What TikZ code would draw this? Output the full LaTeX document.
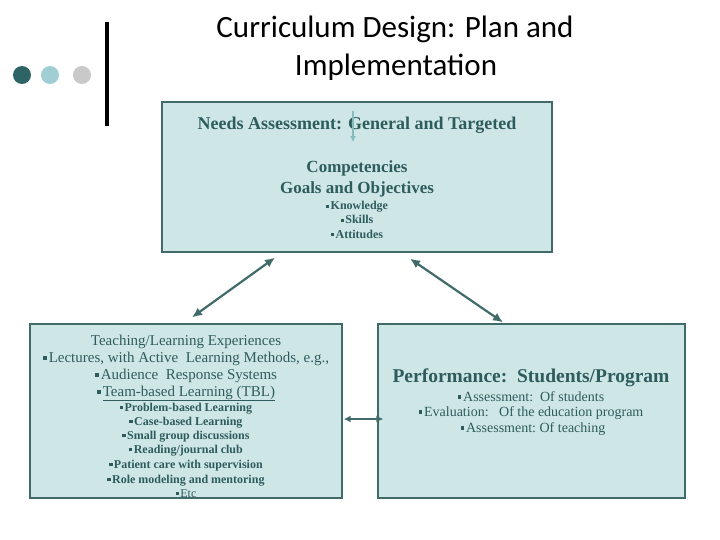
\documentclass[tikz,border=0pt]{standalone}
\usepackage{fontspec}
\setmainfont{Liberation Serif}
\newfontfamily\titlefont{Carlito}
\usetikzlibrary{arrows.meta, positioning}

\definecolor{ink}{HTML}{2E5C5C}
\definecolor{frame}{HTML}{416B6B}
\definecolor{boxfill}{HTML}{CFE6E6}
\definecolor{pale}{HTML}{86BBBD}
\definecolor{dotdark}{HTML}{2F6466}
\definecolor{dotlight}{HTML}{9FCFD4}
\definecolor{dotgrey}{HTML}{C9C9C9}

\newcommand{\fs}[1]{\fontsize{#1}{#1}\selectfont}
\newcommand{\sq}{\raisebox{0.3ex}{\rule{0.27em}{0.27em}}\hspace{0.12em}}

\begin{document}
\begin{tikzpicture}[x=1pt, y=-1pt,
    box/.style={draw=frame, fill=boxfill, line width=1.3pt, inner sep=0pt},
    txt/.style={anchor=base, text=ink, inner sep=0pt},
    link/.style={{Latex[length=10pt,width=9pt]}-{Latex[length=10pt,width=9pt]}, draw=frame, line width=2.2pt}]
  \useasboundingbox (0,0) rectangle (720,540);

  % corner dots and bar
  \fill[dotdark]  (22,75) circle (9pt);
  \fill[dotlight] (50,75) circle (9pt);
  \fill[dotgrey]  (82,75) circle (9pt);
  \draw[line width=4pt] (107,22) -- (107,126);

  \node[txt, text=black, font=\titlefont\fs{31}] (title1) at (395,38) {Curriculum Design: Plan and};
  \node[txt, text=black, font=\titlefont\fs{31}] (title2) at (396,76) {Implementation};

  % boxes
  \node[box, minimum width=390pt, minimum height=150pt] (needs) at (357,177) {};
  \node[box, minimum width=312pt, minimum height=174pt] (teach) at (186,411) {};
  \node[box, minimum width=307pt, minimum height=174pt] (perf) at (531.5,411) {};

  % top box
  \node[txt, font=\bfseries\fs{18}] (needstxt) at (357,130) {Needs Assessment: General and Targeted};
  \node[txt, font=\bfseries\fs{17}] (comp)  at (357,173) {Competencies};
  \node[txt, font=\bfseries\fs{17}] (goals) at (357,194) {Goals and Objectives};
  \node[txt, font=\bfseries\fs{12}] (know)   at (357,210) {\sq Knowledge};
  \node[txt, font=\bfseries\fs{12}] (skills) at (357,224) {\sq Skills};
  \node[txt, font=\bfseries\fs{12}] (att)    at (357,238) {\sq Attitudes};
  \draw[-{Latex[length=6pt,width=6pt]}, draw=pale, line width=1.6pt] ([xshift=-4pt,yshift=6pt]needstxt.north) -- ([xshift=-4pt,yshift=19pt]comp.north);

  % left box
  \node[txt, font=\fs{15}] (tl1) at (186,345) {Teaching/Learning Experiences};
  \node[txt, font=\fs{15}] (tl2) at (186,362) {\sq Lectures, with Active\ \ Learning Methods, e.g.,};
  \node[txt, font=\fs{15}] (tl3) at (186,379) {\sq Audience\ \ Response Systems};
  \node[txt, font=\fs{15}] (tl4) at (186,396) {\sq\underline{Team-based Learning (TBL)}};
  \node[txt, font=\bfseries\fs{12}] (tl5)  at (186,411) {\sq Problem-based Learning};
  \node[txt, font=\bfseries\fs{12}] (tl6)  at (186,425) {\sq Case-based Learning};
  \node[txt, font=\bfseries\fs{12}] (tl7)  at (186,439) {\sq Small group discussions};
  \node[txt, font=\bfseries\fs{12}] (tl8)  at (186,453) {\sq Reading/journal club};
  \node[txt, font=\bfseries\fs{12}] (tl9)  at (186,468) {\sq Patient care with supervision};
  \node[txt, font=\bfseries\fs{12}] (tl10) at (186,483) {\sq Role modeling and mentoring};
  \node[txt, font=\fs{12}]          (tl11) at (186,497) {\sq Etc};

  % right box
  \node[txt, font=\bfseries\fs{19.5}] (pf1) at (531,382) {Performance:\ \ Students/Program};
  \node[txt, font=\fs{14}] (pf2) at (531,401) {\sq Assessment:\ \ Of students};
  \node[txt, font=\fs{14}] (pf3) at (531,416) {\sq Evaluation:\ \ \ Of the education program};
  \node[txt, font=\fs{14}] (pf4) at (533,432) {\sq Assessment:\ Of teaching};

  % links
  \draw[link] ([xshift=-82pt,yshift=-5pt]needs.south) -- ([xshift=6pt,yshift=6pt]teach.north);
  \draw[link] ([xshift=53pt,yshift=-6pt]needs.south) -- ([xshift=-28.5pt,yshift=1pt]perf.north);
  \draw[link, {Latex[length=7pt,width=7pt]}-{Latex[length=7pt,width=7pt]}] ([xshift=1pt,yshift=-8pt]teach.east) -- ([xshift=6pt,yshift=-8pt]perf.west);
\end{tikzpicture}
\end{document}
